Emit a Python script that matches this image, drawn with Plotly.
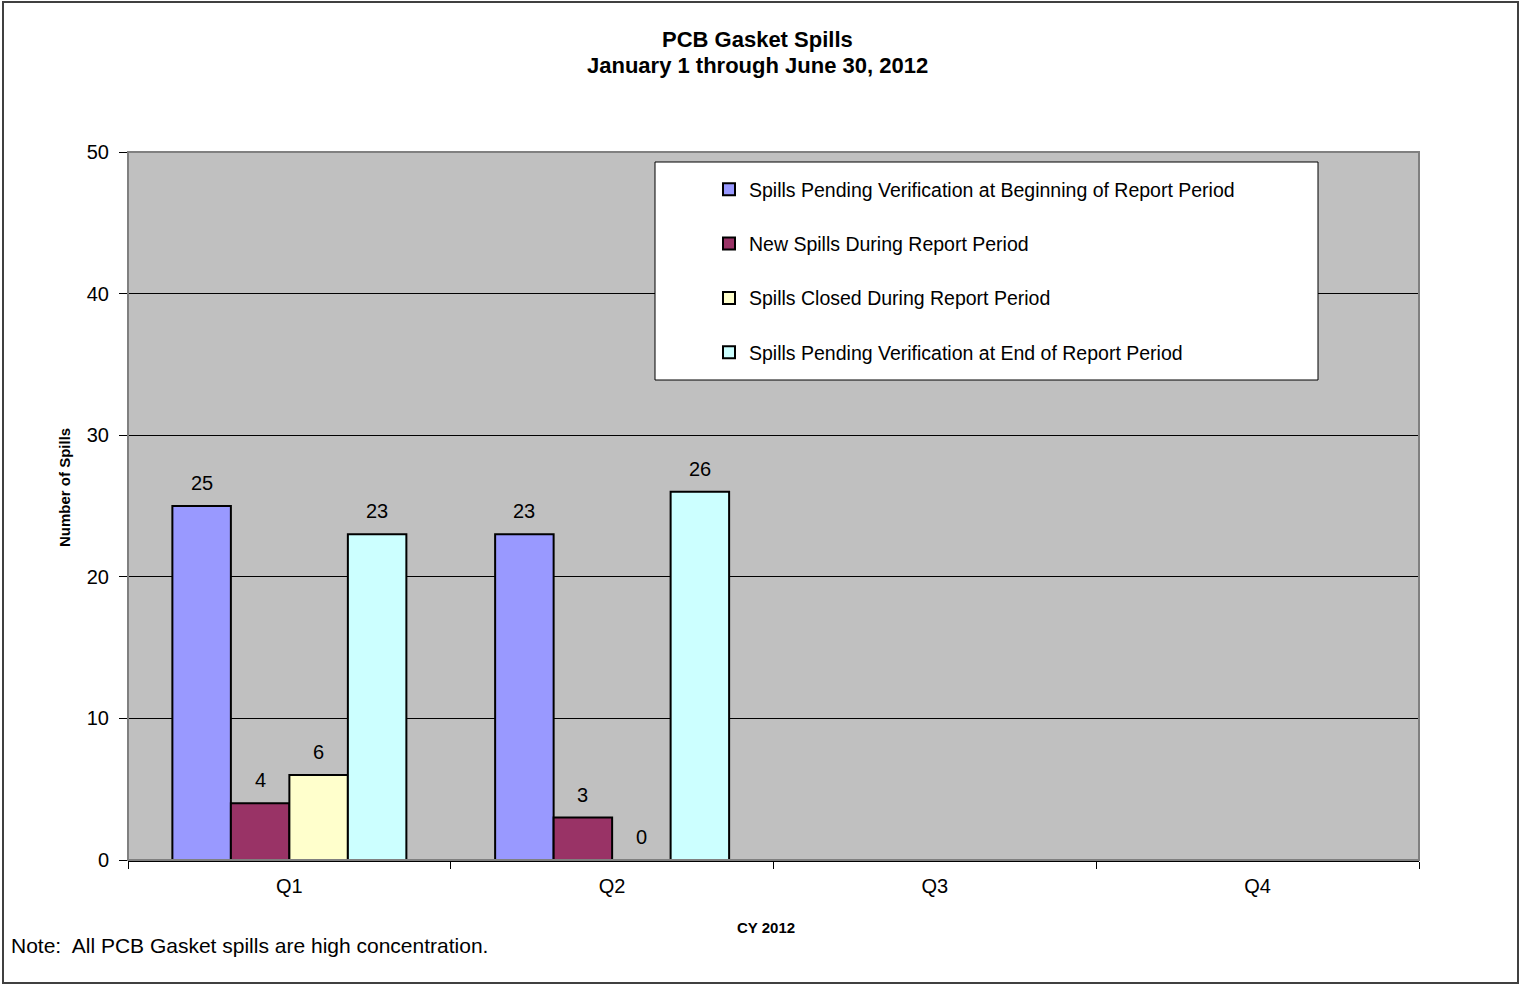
import plotly.graph_objects as go

categories = ["Q1", "Q2", "Q3", "Q4"]
series_names = [
    "Spills Pending Verification at Beginning of Report Period",
    "New Spills During Report Period",
    "Spills Closed During Report Period",
    "Spills Pending Verification at End of Report Period",
]
pending_begin = [25, 23, None, None]
new_spills = [4, 3, None, None]
closed_spills = [6, 0, None, None]
pending_end = [23, 26, None, None]
series_values = [pending_begin, new_spills, closed_spills, pending_end]
colors = ["#9999FF", "#993366", "#FFFFCC", "#CCFFFF"]

FONT = "Liberation Sans, Arial, sans-serif"

W, H = 1520, 985
L, R, T, B = 128, 101, 152, 125
PW, PH = W - L - R, H - T - B
BARGAP = 0.275

fig = go.Figure()
for i, (name, vals, col) in enumerate(zip(series_names, series_values, colors)):
    fig.add_trace(go.Bar(
        x=categories, y=vals, name=name,
        marker=dict(color=col, line=dict(color="black", width=2)),
        legendgroup=f"g{i}",
    ))

# data labels placed at each bar's (category, value) through the axis scales
n = len(series_values)
bar_px = PW / len(categories) * (1 - BARGAP) / n
annotations = []
for i, vals in enumerate(series_values):
    shift = (i - (n - 1) / 2) * bar_px
    for c, v in zip(categories, vals):
        if v is None:
            continue
        annotations.append(dict(
            x=c, y=v, xref="x", yref="y", text=str(v), showarrow=False,
            xshift=shift, yshift=10, yanchor="bottom", xanchor="center",
            font=dict(size=20, family=FONT, color="black"),
        ))

fig.update_layout(
    width=W, height=H,
    margin=dict(l=L, r=R, t=T, b=B, autoexpand=False),
    paper_bgcolor="white", plot_bgcolor="#C0C0C0",
    barmode="group", bargap=BARGAP, bargroupgap=0,
    font=dict(family=FONT, color="black", size=20),
    showlegend=True,
    legend=dict(
        x=(709 - L) / PW, xanchor="left",
        y=(860 - 170) / PH, yanchor="top",
        bgcolor="rgba(0,0,0,0)", borderwidth=0,
        font=dict(size=19.5, family=FONT, color="black"),
        tracegroupgap=26, itemwidth=30,
    ),
)

fig.update_yaxes(
    range=[0, 50], dtick=10, tick0=0,
    showgrid=True, gridcolor="black", gridwidth=1,
    ticks="outside", ticklen=8, tickcolor="black",
    tickfont=dict(size=20, family=FONT),
    ticklabelstandoff=6,
    showline=False, zeroline=False,
)
fig.update_xaxes(
    tickson="boundaries", ticks="outside", ticklen=7, tickcolor="black",
    tickfont=dict(size=20, family=FONT),
    ticklabelstandoff=7,
    showline=True, linecolor="black", linewidth=2,
    showgrid=False,
)

shapes = [
    dict(type="rect", xref="paper", yref="paper", x0=0, x1=1, y0=0, y1=1,
         line=dict(color="#808080", width=2), fillcolor="rgba(0,0,0,0)", layer="above"),
    dict(type="rect", xref="paper", yref="paper",
         x0=(655 - L) / PW, x1=(1318 - L) / PW,
         y0=(860 - 380) / PH, y1=(860 - 162) / PH,
         line=dict(color="black", width=1), fillcolor="white", layer="above"),
    dict(type="rect", xref="paper", yref="paper",
         x0=(3 - L) / PW, x1=(1518 - L) / PW,
         y0=(860 - 983) / PH, y1=(860 - 2) / PH,
         line=dict(color="#404040", width=2), fillcolor="rgba(0,0,0,0)", layer="below"),
]
fig.update_layout(shapes=shapes)

annotations += [
    dict(text="<b>PCB Gasket Spills</b>", xref="paper", yref="paper",
         x=(757 - L) / PW, y=(860 - 40) / PH,
         showarrow=False, font=dict(size=22, family=FONT), xanchor="center", yanchor="middle"),
    dict(text="<b>January 1 through June 30, 2012</b>", xref="paper", yref="paper",
         x=(757 - L) / PW, y=(860 - 66) / PH,
         showarrow=False, font=dict(size=22, family=FONT), xanchor="center", yanchor="middle"),
    dict(text="<b>Number of Spills</b>", xref="paper", yref="paper",
         x=(65 - L) / PW, y=(860 - 488) / PH, textangle=-90,
         showarrow=False, font=dict(size=15, family=FONT), xanchor="center", yanchor="middle"),
    dict(text="<b>CY 2012</b>", xref="paper", yref="paper",
         x=(766 - L) / PW, y=(860 - 928) / PH,
         showarrow=False, font=dict(size=15, family=FONT), xanchor="center", yanchor="middle"),
    dict(text="Note:  All PCB Gasket spills are high concentration.", xref="paper", yref="paper",
         x=(9 - L) / PW, y=(860 - 945) / PH,
         showarrow=False, font=dict(size=21, family=FONT), xanchor="left", yanchor="middle"),
]
fig.update_layout(annotations=annotations)

fig.write_html("out.html")
